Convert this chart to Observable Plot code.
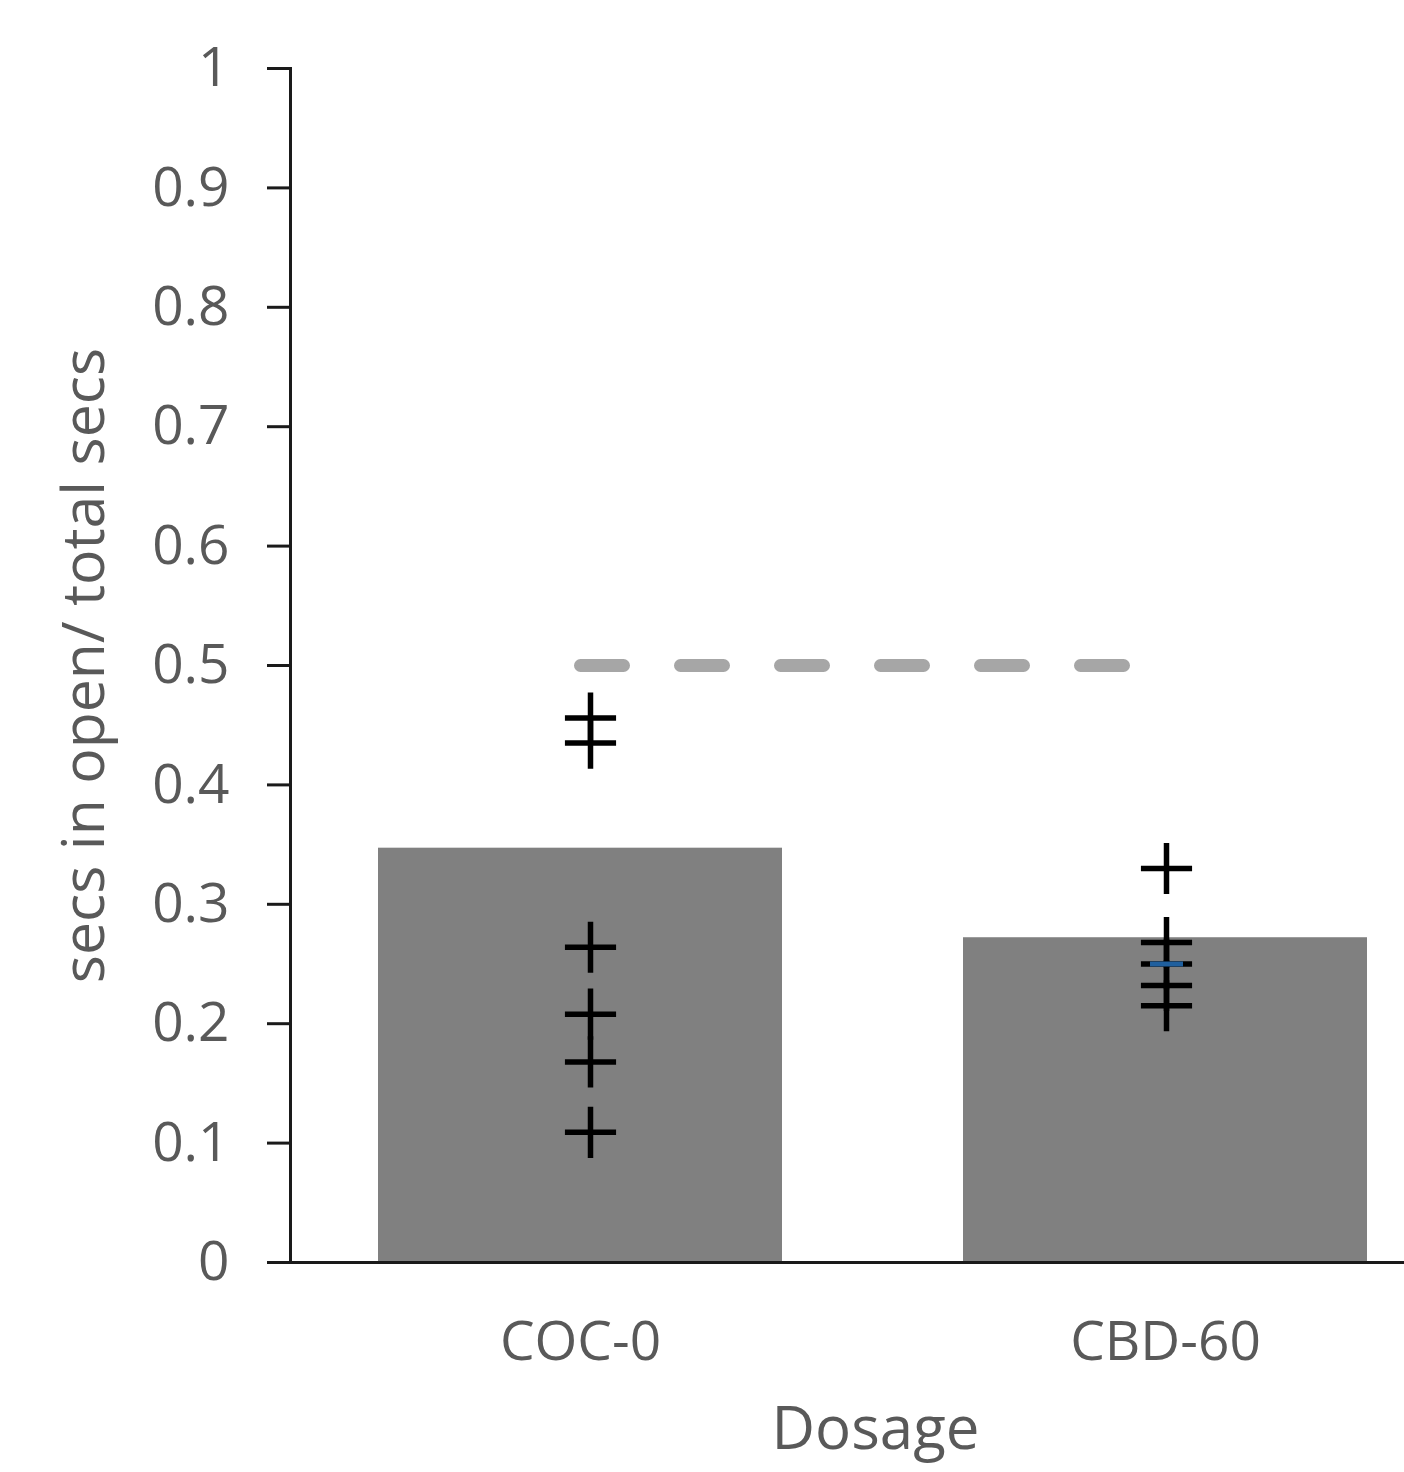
<!DOCTYPE html>
<html>
<head>
<meta charset="utf-8">
<script src="https://cdn.jsdelivr.net/npm/d3@7"></script>
<script src="https://cdn.jsdelivr.net/npm/@observablehq/plot@0.6"></script>
<style>
  html, body { margin: 0; padding: 0; background: #fff; }
  #chart svg { display: block; }
</style>
</head>
<body>
<div id="chart"></div>
<script>
const categories = ["COC-0", "CBD-60"];
const barValues = [0.347, 0.272];
const cocPoints = [0.456, 0.435, 0.264, 0.208, 0.168, 0.109];
const cbdPoints = [0.330, 0.268, 0.250, 0.232, 0.215];
const cbdHighlight = [0.250];
const referenceLevel = 0.5;
const yTicks = [0, 0.1, 0.2, 0.3, 0.4, 0.5, 0.6, 0.7, 0.8, 0.9, 1];

const bars = categories.map((c, i) => ({category: c, value: barValues[i]}));
const cocData = cocPoints.map(v => ({category: "COC-0", value: v}));
const cbdData = cbdPoints.map(v => ({category: "CBD-60", value: v}));
const highlightData = cbdHighlight.map(v => ({category: "CBD-60", value: v}));

const hDash = {
  draw(context, size) {
    const r = Math.sqrt(size / Math.PI);
    context.moveTo(-r, 0);
    context.lineTo(r, 0);
  }
};

const font = "'Open Sans', 'Liberation Sans', sans-serif";

const chart = Plot.plot({
  width: 1404,
  height: 1472,
  marginTop: 68,
  marginBottom: 210,
  marginLeft: 290,
  marginRight: 0,
  style: {fontFamily: font, fontSize: "55px", color: "#595959", background: "#fff", overflow: "visible"},
  x: {domain: categories, range: [287, 1457], paddingInner: 0.31, paddingOuter: 0.155, label: null},
  y: {domain: [0, 1], label: null},
  marks: [
    Plot.barY(bars, {x: "category", y: "value", fill: "#808080"}),
    Plot.line(categories, {
      x: d => d, y: () => referenceLevel,
      stroke: "#a6a6a6", strokeWidth: 13, strokeDasharray: "43,57", strokeLinecap: "round"
    }),
    Plot.dot(cocData, {x: "category", y: "value", symbol: "plus", r: 16.5, stroke: "#000", strokeWidth: 5.5, dx: 10}),
    Plot.dot(cbdData, {x: "category", y: "value", symbol: "plus", r: 16.5, stroke: "#000", strokeWidth: 5.5, dx: 1}),
    Plot.dot(highlightData, {x: "category", y: "value", symbol: hDash, r: 16.5, stroke: "#1f5f9e", strokeWidth: 5, dx: 1}),
    Plot.axisY({ticks: yTicks, tickSize: 23, tickPadding: 38, tickFormat: d => String(d), stroke: "#1a1a1a", strokeWidth: 3, fontSize: 55, fill: "#595959"}),
    Plot.axisX({tickSize: 0, tickPadding: 58, fontSize: 55, fill: "#595959", label: null}),
    Plot.frame({anchor: "left", stroke: "#1a1a1a", strokeWidth: 3}),
    Plot.ruleY([0], {stroke: "#1a1a1a", strokeWidth: 3}),
    Plot.text(["secs in open/ total secs"], {
      frameAnchor: "left", dx: -205, rotate: -90, textAnchor: "middle", fontSize: 59, fill: "#595959", text: d => d
    }),
    Plot.text(["Dosage"], {
      frameAnchor: "bottom", dy: 186, dx: 28, fontSize: 60, fill: "#595959", text: d => d
    })
  ]
});
document.getElementById("chart").appendChild(chart);
</script>
</body>
</html>
